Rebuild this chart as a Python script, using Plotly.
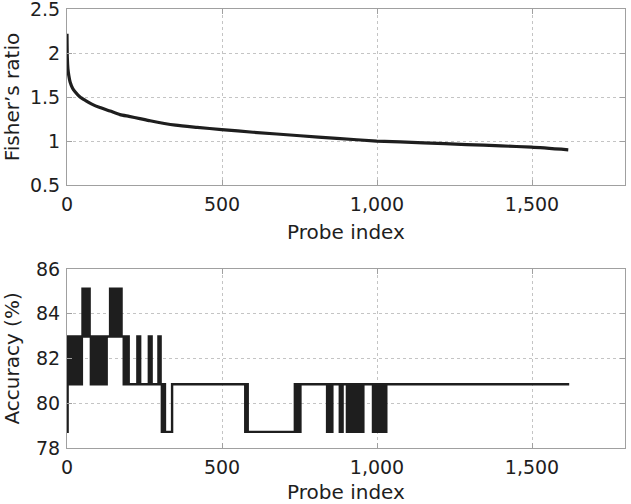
import plotly.graph_objects as go

# ---- data ----
fisher_idx = [0, 1, 3, 6, 10, 18, 26, 42, 60, 80, 106, 139, 171, 200, 235,
              268, 350, 420, 499, 600, 752, 870, 999, 1150, 1289, 1400, 1499, 1617]
fisher_val = [2.22, 1.95, 1.82, 1.74, 1.67, 1.60, 1.56, 1.50, 1.46, 1.42, 1.38,
              1.34, 1.30, 1.28, 1.255, 1.23, 1.18, 1.155, 1.13, 1.10, 1.06,
              1.03, 1.00, 0.98, 0.96, 0.945, 0.93, 0.90]

# accuracy segments: flat where lo == hi, rapidly switching between lo/hi otherwise
seg_start = [0, 2, 48, 50, 73, 76, 102, 108, 129, 139, 177, 182, 199, 227, 237,
             264, 273, 295, 303, 305, 317, 339, 574, 583, 735, 753, 838, 857,
             879, 889, 902, 923, 928, 957, 986, 1030]
seg_end = [1, 47, 49, 72, 75, 101, 107, 128, 138, 176, 181, 198, 226, 236, 263,
           272, 294, 302, 304, 316, 338, 573, 582, 734, 752, 837, 856, 878,
           888, 901, 922, 927, 956, 985, 1029, 1620]
seg_lo = [78.72, 80.85, 82.98, 82.98, 82.98, 80.85, 80.85, 80.85, 82.98, 82.98,
          82.98, 80.85, 80.85, 80.85, 80.85, 80.85, 80.85, 80.85, 80.85, 78.72,
          78.72, 80.85, 78.72, 78.72, 78.72, 80.85, 78.72, 80.85, 78.72, 80.85,
          78.72, 80.85, 78.72, 80.85, 78.72, 80.85]
seg_hi = [78.72, 82.98, 82.98, 85.11, 82.98, 82.98, 80.85, 82.98, 82.98, 85.11,
          82.98, 82.98, 80.85, 82.98, 80.85, 82.98, 80.85, 82.98, 80.85, 80.85,
          78.72, 80.85, 80.85, 78.72, 80.85, 80.85, 80.85, 80.85, 80.85, 80.85,
          80.85, 80.85, 80.85, 80.85, 80.85, 80.85]

x_ticks = [0, 500, 1000, 1500]
x_ticktext = ['0', '500', '1,000', '1,500']

# build step points for the accuracy trace
acc_x, acc_y = [], []
for s, e, lo, hi in zip(seg_start, seg_end, seg_lo, seg_hi):
    if lo == hi:
        acc_x += [s, e]
        acc_y += [lo, lo]
    else:
        for i in range(s, e + 1):
            acc_x.append(i)
            acc_y.append(hi if (i - s) % 2 == 0 else lo)

FONT = 'DejaVu Sans, Arial, sans-serif'
INK = '#1e1e1e'
TICK_FS = 19
TITLE_FS = 20

fig = go.Figure()
fig.add_trace(go.Scatter(x=fisher_idx, y=fisher_val, mode='lines',
                         line=dict(color=INK, width=3.2, shape='spline', smoothing=0.6),
                         xaxis='x', yaxis='y', showlegend=False))
fig.add_trace(go.Scatter(x=acc_x, y=acc_y, mode='lines',
                         line=dict(color=INK, width=2.4, shape='hv'),
                         xaxis='x2', yaxis='y2', showlegend=False))

axis_style = dict(showline=True, linecolor='#a0a0a0', linewidth=1, mirror='ticks',
                  ticks='inside', ticklen=5, tickcolor='#a0a0a0',
                  showgrid=True, gridcolor='#c4c4c4', griddash='dot', gridwidth=1,
                  zeroline=False, automargin=False, ticklabeloverflow='allow',
                  tickfont=dict(size=TICK_FS, color=INK, family=FONT))

xax = dict(axis_style, range=[0, 1800], tickvals=x_ticks, ticktext=x_ticktext,
           title=dict(text='Probe index', font=dict(size=TITLE_FS, color=INK, family=FONT), standoff=11),
           ticklabelstandoff=2)

yt = lambda s: dict(text=s, font=dict(size=TITLE_FS, color=INK, family=FONT), standoff=11)

fig.update_layout(
    width=631, height=504,
    margin=dict(l=67, r=6, t=9, b=56),
    paper_bgcolor='white', plot_bgcolor='white',
    font=dict(family=FONT, size=TICK_FS, color=INK),
    xaxis=dict(xax, domain=[0, 1], anchor='y'),
    yaxis=dict(axis_style, domain=[0.599, 1], anchor='x', range=[0.5, 2.5], dtick=0.5,
               title=yt('Fisher’s ratio'), ticklabelstandoff=2),
    xaxis2=dict(xax, domain=[0, 1], anchor='y2'),
    yaxis2=dict(axis_style, domain=[0, 0.408], anchor='x2', range=[78, 86], dtick=2,
                title=yt('Accuracy (%)'), ticklabelstandoff=2),
)

# drop the browser's default page margin so the figure sits at the window corner
fig.write_html('out.html', config={'displayModeBar': False},
               post_script="document.body.style.margin='0';")
